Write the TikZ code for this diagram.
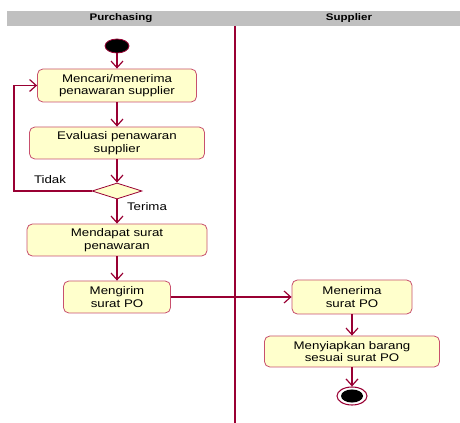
\documentclass[tikz,border=0pt]{standalone}
\usepackage{fontspec}
\setmainfont{Liberation Sans}[FakeStretch=1.2]
\usetikzlibrary{arrows.meta,shapes.geometric}
\definecolor{lane}{RGB}{153,0,51}
\definecolor{boxline}{RGB}{200,80,110}
\definecolor{boxfill}{RGB}{255,255,204}
\definecolor{headgray}{RGB}{192,192,192}
\tikzset{
	act/.style={draw=boxline, fill=boxfill, rounded corners=4pt, line width=0.6pt,
		align=center, inner sep=1pt, font=\fontsize{8.3}{9.5}\selectfont},
	flow/.style={draw=lane, line width=0.9pt, -{Straight Barb[length=5pt,width=9pt,line width=0.9pt]}},
	lbl/.style={font=\fontsize{8.3}{9.5}\selectfont},
	head/.style={font=\fontsize{7.2}{8}\selectfont\bfseries}
}

\begin{document}
\begin{tikzpicture}[x=0.75pt,y=-0.75pt]
			%%%%% START %%%%%
			\useasboundingbox (0,0) rectangle (460,423);
			
			\fill[headgray] (7,11) rectangle (460,26);
			\node[head] (hpur) at (121,18.5) {Purchasing};
			\node[head] (hsup) at (349,18.5) {Supplier};
			\draw[lane, line width=0.8pt] (235,26) -- (235,423);
			
			\node[draw=lane, fill=black, ellipse, line width=0.6pt, minimum width=18pt, minimum height=10.5pt, inner sep=0pt] (start) at (117,46) {};
			
			\node[act, minimum width=119.25pt, minimum height=24.75pt] (cari) at (117,85.5) {Mencari/menerima\\penawaran supplier};
			\node[act, minimum width=131.25pt, minimum height=24pt] (eval) at (117,143) {Evaluasi penawaran\\supplier};
			\node[draw=lane, fill=boxfill, diamond, line width=0.6pt, minimum width=37.5pt, minimum height=12pt, inner sep=0pt] (dec) at (117,191) {};
			\node[act, minimum width=135pt, minimum height=24pt] (dapat) at (117,240) {Mendapat surat\\penawaran};
			\node[act, minimum width=80.25pt, minimum height=24pt] (kirim) at (117,297) {Mengirim\\surat PO};
			
			\node[act, minimum width=90pt, minimum height=25.5pt] (terima) at (352,297) {Menerima\\surat PO};
			\node[act, minimum width=131.25pt, minimum height=23.25pt] (siap) at (352,351.5) {Menyiapkan barang\\sesuai surat PO};
			
			\node[draw=lane, fill=white, ellipse, line width=0.8pt, minimum width=22.5pt, minimum height=13.5pt, inner sep=0pt] (end) at (352,396) {};
			\fill[black] (end.center) ellipse (8.25pt and 4.9pt);
			
			\node[lbl] (tidak) at (50,180) {Tidak};
			\node[lbl] (ok) at (147,207) {Terima};
			
			\draw[flow] (start) -- (cari);
			\draw[flow] (cari) -- (eval);
			\draw[flow] (eval) -- (dec);
			\draw[flow] (dec) -- (dapat);
			\draw[flow] (dapat) -- (kirim);
			\coordinate (loop) at (14,191);
			\draw[flow] (dec.west) -- (loop) |- (cari.west);
			\draw[flow] (kirim) -- (terima);
			\draw[flow] (terima) -- (siap);
			\draw[flow] (siap) -- (end);
			
			%%%%% END %%%%%
\end{tikzpicture}
\end{document}
